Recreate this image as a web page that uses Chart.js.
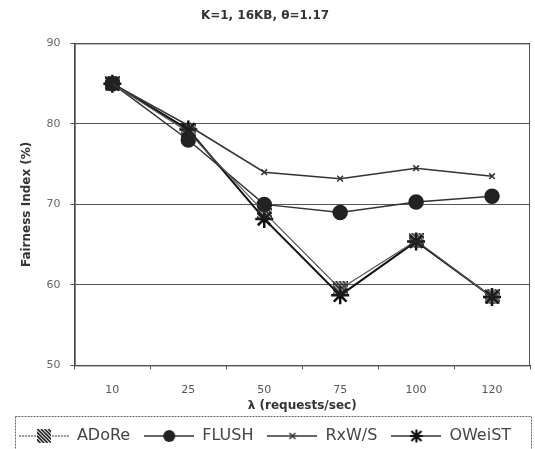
<!DOCTYPE html>
<html>
<head>
<meta charset="utf-8">
<script src="https://cdn.jsdelivr.net/npm/chart.js@4.4.1/dist/chart.umd.min.js"></script>
<style>
  html, body { margin: 0; padding: 0; background: #fff; }
  #wrap { width: 535px; height: 449px; }
</style>
</head>
<body>
<div id="wrap"><canvas id="chart" width="535" height="449"></canvas></div>
<script>
// lambda (requests/sec) on the x axis
const rates = ['10', '25', '50', '75', '100', '120']

// fairness index (%) per scheme
const adore = [85, 79, 69, 59.5, 65.5, 58.5]
const flush = [85, 78, 70, 69, 70.3, 71]
const rxws = [85, 79.8, 74, 73.2, 74.5, 73.5]
const oweist = [85, 79.3, 68.2, 58.7, 65.4, 58.5]

const yMin = 50
const yMax = 90
const yStep = 10

const FONT = 'DejaVu Sans'

// hatched square used for ADoRe
function hatchMarker(size) {
    let cv = document.createElement('canvas')
    cv.width = size
    cv.height = size
    let ctx = cv.getContext('2d')
    ctx.strokeStyle = '#222'
    ctx.lineWidth = 1.7
    for (let k = -size; k < size * 2; k += 3.6) {
        ctx.beginPath()
        ctx.moveTo(k, 0)
        ctx.lineTo(k + size, size)
        ctx.stroke()
    }
    return cv
}

// little line + marker picture for the legend
function legendIcon(kind, dash) {
    let cv = document.createElement('canvas')
    cv.width = 50
    cv.height = 16
    let ctx = cv.getContext('2d')
    ctx.strokeStyle = '#333'
    ctx.lineWidth = kind === 'adore' ? 1 : 1.5
    if (dash) ctx.setLineDash(dash)
    ctx.beginPath()
    ctx.moveTo(0, 8)
    ctx.lineTo(50, 8)
    ctx.stroke()
    ctx.setLineDash([])
    if (kind === 'adore') {
        ctx.fillStyle = '#fff'
        ctx.fillRect(18, 1, 14, 14)
        ctx.drawImage(hatchMarker(14), 18, 1)
    } else if (kind === 'flush') {
        ctx.fillStyle = '#222'
        ctx.beginPath()
        ctx.arc(25, 8, 6, 0, Math.PI * 2)
        ctx.fill()
    } else if (kind === 'rxws') {
        ctx.lineWidth = 1.5
        ctx.beginPath()
        ctx.moveTo(22, 5); ctx.lineTo(28, 11)
        ctx.moveTo(28, 5); ctx.lineTo(22, 11)
        ctx.stroke()
    } else {
        ctx.lineWidth = 2.2
        ctx.strokeStyle = '#111'
        ctx.beginPath()
        ctx.moveTo(20, 3); ctx.lineTo(30, 13)
        ctx.moveTo(30, 3); ctx.lineTo(20, 13)
        ctx.moveTo(25, 1.5); ctx.lineTo(25, 14.5)
        ctx.moveTo(18.5, 8); ctx.lineTo(31.5, 8)
        ctx.stroke()
    }
    return cv
}

const icons = [
    legendIcon('adore', [2, 1]),
    legendIcon('flush'),
    legendIcon('rxws'),
    legendIcon('oweist')
]

// draws the frame round the plot and round the legend
const frames = {
    id: 'frames',
    afterDraw(chart) {
        let ctx = chart.ctx
        let a = chart.chartArea
        ctx.save()
        ctx.strokeStyle = '#555'
        ctx.lineWidth = 1
        ctx.strokeRect(a.left + 0.5, a.top + 0.5, a.right - a.left - 1, a.bottom - a.top)
        let lg = chart.legend
        ctx.strokeStyle = '#666'
        ctx.setLineDash([2, 1])
        ctx.strokeRect(15.5, lg.top + 2.5, 516, 40)
        ctx.restore()
    }
}

new Chart(document.getElementById('chart'), {
    type: 'line',
    data: {
        labels: rates,
        datasets: [
            {
                label: 'ADoRe',
                data: adore,
                borderColor: '#555',
                borderWidth: 1.2,
                pointStyle: hatchMarker(15),
                pointRadius: 8
            },
            {
                label: 'FLUSH',
                data: flush,
                borderColor: '#333',
                borderWidth: 1.5,
                pointStyle: 'circle',
                pointRadius: 7,
                pointBackgroundColor: '#222',
                pointBorderColor: '#222'
            },
            {
                label: 'RxW/S',
                data: rxws,
                borderColor: '#333',
                borderWidth: 1.5,
                pointStyle: 'crossRot',
                pointRadius: 4,
                pointBorderWidth: 1.5,
                pointBorderColor: '#333'
            },
            {
                label: 'OWeiST',
                data: oweist,
                borderColor: '#111',
                borderWidth: 2,
                pointStyle: 'star',
                pointRadius: 9,
                pointBorderWidth: 2.5,
                pointBorderColor: '#111'
            }
        ]
    },
    options: {
        responsive: false,
        animation: false,
        devicePixelRatio: 1,
        layout: { autoPadding: false, padding: { left: 0, right: 5, top: 5, bottom: -5 } },
        elements: { line: { tension: 0 } },
        scales: {
            x: {
                offset: true,
                grid: { display: true, drawOnChartArea: false, offset: true, tickLength: 4, color: '#555' },
                border: { color: '#444' },
                ticks: { color: '#555', font: { family: FONT, size: 11 }, padding: 14 },
                title: {
                    display: true,
                    text: 'λ (requests/sec)',
                    color: '#333',
                    font: { family: FONT, size: 12, weight: 'bold' },
                    padding: { top: -12, bottom: 1 }
                }
            },
            y: {
                min: yMin,
                max: yMax,
                ticks: { stepSize: yStep, color: '#666', font: { family: FONT, size: 11 }, padding: 10 },
                grid: { color: '#555', lineWidth: 1, tickLength: 4 },
                border: { color: '#333', width: 1.5 },
                title: {
                    display: true,
                    text: 'Fairness Index (%)',
                    color: '#333',
                    font: { family: FONT, size: 12, weight: 'bold' },
                    padding: { top: 20, bottom: 2 }
                }
            }
        },
        plugins: {
            title: {
                display: true,
                text: 'K=1, 16KB, θ=1.17',
                color: '#333',
                font: { family: FONT, size: 12, weight: 'bold' },
                padding: { top: 4, bottom: 20 }
            },
            legend: {
                position: 'bottom',
                labels: {
                    usePointStyle: true,
                    pointStyleWidth: 50,
                    color: '#444',
                    font: { family: FONT, size: 16 },
                    padding: 14,
                    generateLabels(chart) {
                        let base = Chart.defaults.plugins.legend.labels.generateLabels(chart)
                        return base.map((item, i) => ({ ...item, pointStyle: icons[i] }))
                    }
                }
            },
            tooltip: { enabled: false }
        }
    },
    plugins: [frames]
})
</script>
</body>
</html>
